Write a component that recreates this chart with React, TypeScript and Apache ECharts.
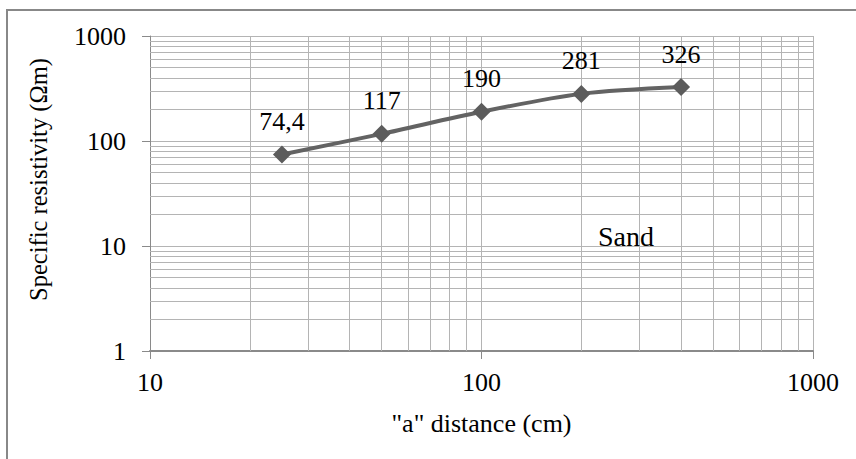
import React, { useEffect, useRef } from "react";
import * as echarts from "echarts";

const distances = [25, 50, 100, 200, 400];
const resistivity = [74.4, 117, 190, 281, 326];
const pointLabels = ["74,4", "117", "190", "281", "326"];
const xMinorLines = [20, 30, 40, 50, 60, 70, 80, 90, 200, 300, 400, 500, 600, 700, 800, 900];
const yMinorLines = [2, 3, 4, 5, 6, 7, 8, 9, 20, 30, 40, 50, 60, 70, 80, 90, 200, 300, 400, 500, 600, 700, 800, 900];
const xTitle = '"a" distance (cm)';
const yTitle = "Specific resistivity (Ωm)";
const annotation = "Sand";

const FONT = "Liberation Serif";
const GRID = "#b4b4b4";
const AXIS = "#8a8a8a";

export default function App() {
  const ref = useRef<HTMLDivElement>(null);
  useEffect(() => {
    if (!ref.current) return;
    const chart = echarts.init(ref.current, null, { renderer: "svg" });
    chart.setOption({
      animation: false,
      backgroundColor: "#ffffff",
      textStyle: { fontFamily: FONT },
      grid: { left: 150, right: 43, top: 36, bottom: 108, containLabel: false },
      xAxis: {
        type: "log",
        logBase: 10,
        min: 10,
        max: 1000,
        name: xTitle,
        nameLocation: "middle",
        nameGap: 59,
        nameTextStyle: { fontFamily: FONT, fontSize: 26, color: "#000" },
        axisLine: { show: true, onZero: false, lineStyle: { color: AXIS, width: 2 } },
        axisTick: { show: true, length: 8, lineStyle: { color: AXIS, width: 1 } },
        axisLabel: {
          fontFamily: FONT,
          fontSize: 26,
          color: "#000",
          margin: 18,
          formatter: (v: number) => String(Math.round(v)),
        },
        splitLine: { show: true, lineStyle: { color: GRID, width: 1 } },
      },
      yAxis: {
        type: "log",
        logBase: 10,
        min: 1,
        max: 1000,
        name: yTitle,
        nameLocation: "middle",
        nameGap: 99,
        nameRotate: 90,
        nameTextStyle: { fontFamily: FONT, fontSize: 24.5, color: "#000", padding: [0, 0, 0, 28] },
        axisLine: { show: true, onZero: false, lineStyle: { color: AXIS, width: 1 } },
        axisTick: { show: true, length: 8, lineStyle: { color: AXIS, width: 1 } },
        axisLabel: {
          fontFamily: FONT,
          fontSize: 26,
          color: "#000",
          margin: 24,
          formatter: (v: number) => String(Math.round(v)),
        },
        splitLine: { show: true, lineStyle: { color: GRID, width: 1 } },
      },
      graphic: [
        {
          type: "rect",
          shape: { x: 7, y: 10, width: 900, height: 500 },
          style: { fill: "none", stroke: "#888888", lineWidth: 2 },
          silent: true,
          z: -10,
        },
        {
          type: "text",
          left: 598,
          top: 222,
          z: 10,
          style: { text: annotation, fontFamily: FONT, fontSize: 28, fill: "#000" },
        },
      ],
      series: [
        {
          type: "line",
          data: [],
          z: 0,
          silent: true,
          markLine: {
            silent: true,
            symbol: ["none", "none"],
            label: { show: false },
            lineStyle: { color: GRID, width: 1, type: "solid" },
            data: [
              ...xMinorLines.map((v) => ({ xAxis: v })),
              ...yMinorLines.map((v) => ({ yAxis: v })),
            ],
          },
        },
        {
          type: "line",
          z: 5,
          data: distances.map((d, i) => [d, resistivity[i]]),
          smooth: 0.3,
          symbol: "diamond",
          symbolSize: 18,
          lineStyle: { color: "#636363", width: 4 },
          itemStyle: { color: "#5c5c5c" },
          label: {
            show: true,
            position: "top",
            distance: 11,
            fontFamily: FONT,
            fontSize: 26,
            color: "#000",
            formatter: (p: any) => pointLabels[p.dataIndex],
          },
        },
      ],
    });
    return () => chart.dispose();
  }, []);
  return (
    <div
      ref={ref}
      style={{ position: "absolute", left: 0, top: 0, width: 856, height: 459 }}
    />
  );
}
